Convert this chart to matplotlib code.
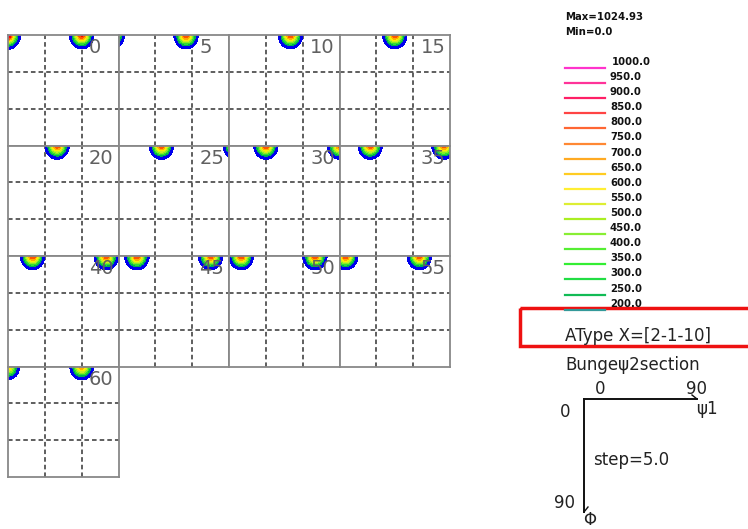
import numpy as np
import matplotlib
matplotlib.use("Agg")
import matplotlib.pyplot as plt

# secoes phi2 (graus) e picos da ODF
secoes = [0, 5, 10, 15, 20, 25, 30, 35, 40, 45, 50, 55, 60]
pico_phi2 = [0, 0, 5, 5, 10, 15, 20, 25, 25, 30, 30, 35, 35, 40, 40, 45, 45, 50, 50, 55, 55, 60, 60]
pico_phi1 = [0, 60, -5, 55, 50, 45, 40, 35, 95, 30, 90, 25, 85, 20, 80, 15, 75, 10, 70, 5, 65, 0, 60]
pico_Phi = [0] * len(pico_phi2)
pico_valor = [1025, 920, 850, 900, 890, 890, 880, 890, 820, 900, 850, 890, 860,
              900, 880, 900, 880, 900, 880, 890, 880, 700, 780]

# niveis da legenda
niveis_legenda = [1000.0, 950.0, 900.0, 850.0, 800.0, 750.0, 700.0, 650.0, 600.0,
                  550.0, 500.0, 450.0, 400.0, 350.0, 300.0, 250.0, 200.0]
cores_legenda = ["#ff33cc", "#ff3399", "#ff1f66", "#ff4444", "#ff6633", "#ff8833",
                 "#ffaa22", "#ffcc22", "#ffee33", "#ddee33", "#aaee22", "#88ee33",
                 "#55ee33", "#33ee33", "#22dd44", "#11bb55", "#339999"]

# niveis do preenchimento das secoes
niveis_cont = [70, 200, 300, 400, 500, 600, 700, 800, 900, 1000, 1100]
cores_cont = ["#0000ee", "#00b050", "#33dd33", "#88ee22", "#ccee22", "#ffee00",
              "#ffaa00", "#ff5500", "#ff0000", "#ff00ff"]

valor_max = 1024.93
valor_min = 0.0

W, H = 748, 529
fig = plt.figure(figsize=(W / 100, H / 100), dpi=100)

# grade de secoes: 4 colunas, tamanho em pixels
x0, y0, tam = 8, 35, 110.5
ncols = 4

phi1 = np.linspace(-10, 100, 221)
Phi = np.linspace(0, 90, 181)
P1, PP = np.meshgrid(phi1, Phi)
sx, sy = 4.4, 5.0

for i, phi2 in enumerate(secoes):
    lin, col = divmod(i, ncols)
    esq = x0 + col * tam
    topo = y0 + lin * tam
    ax = fig.add_axes([esq / W, 1 - (topo + tam) / H, tam / W, tam / H])
    campo = np.zeros_like(P1)
    for p2, p1, pp, v in zip(pico_phi2, pico_phi1, pico_Phi, pico_valor):
        if p2 == phi2:
            campo += v * np.exp(-((P1 - p1) ** 2) / (2 * sx ** 2) - ((PP - pp) ** 2) / (2 * sy ** 2))
    for g in (30, 60):
        ax.axvline(g, color="#333333", lw=1.1, ls=(0, (3, 2)), zorder=1)
        ax.axhline(g, color="#333333", lw=1.1, ls=(0, (3, 2)), zorder=1)
    ax.contourf(P1, PP, campo, levels=niveis_cont, colors=cores_cont, zorder=2)
    ax.set_xlim(0, 90)
    ax.set_ylim(90, 0)
    ax.set_xticks([])
    ax.set_yticks([])
    for s in ax.spines.values():
        s.set_color("#888888")
        s.set_linewidth(1.3)
    ax.text(66, 2.5, str(phi2), fontsize=14, color="#606060", ha="left", va="top", zorder=3)

# camada de texto em coordenadas de pixel
axt = fig.add_axes([0, 0, 1, 1], facecolor="none")
axt.set_xlim(0, W)
axt.set_ylim(H, 0)
axt.axis("off")

axt.text(565, 17, f"Max={valor_max}", fontsize=7.3, fontweight="bold", color="#111111", va="center")
axt.text(565, 32, f"Min={valor_min}", fontsize=7.3, fontweight="bold", color="#111111", va="center")

for k, (nv, c) in enumerate(zip(niveis_legenda, cores_legenda)):
    yl = 68 + 15.1 * k
    axt.plot([565, 605], [yl, yl], color=c, lw=1.6)
    axt.text(612 if nv >= 1000 else 610, yl - 6, f"{nv}", fontsize=7.3, fontweight="bold",
             color="#111111", va="center")

axt.add_patch(plt.Rectangle((520, 308), 240, 38, fill=False, edgecolor="#ee1111", lw=2.5, clip_on=False))
fs = 12
axt.text(565, 341, "AType X=[2-1-10]", fontsize=fs, color="#222222", va="baseline")
axt.text(565, 370, "Bungeψ2section", fontsize=fs, color="#222222", va="baseline")

# eixos de referencia phi1 / Phi
axt.plot([584, 697], [399, 399], color="#111111", lw=1.4)
axt.plot([692, 697], [395, 399], color="#111111", lw=1)
axt.plot([584, 584], [399, 512], color="#111111", lw=1.4)
axt.plot([584, 588], [512, 507], color="#111111", lw=1)
axt.text(600, 394, "0", fontsize=fs, color="#222222", ha="center", va="baseline")
axt.text(697, 394, "90", fontsize=fs, color="#222222", ha="center", va="baseline")
axt.text(707, 409, "ψ1", fontsize=fs, color="#222222", ha="center", va="center")
axt.text(565, 412, "0", fontsize=fs, color="#222222", ha="center", va="center")
axt.text(593, 460, "step=5.0", fontsize=fs, color="#222222", ha="left", va="center")
axt.text(565, 503, "90", fontsize=fs, color="#222222", ha="center", va="center")
axt.text(590, 520, "Φ", fontsize=fs, color="#222222", ha="center", va="center")

fig.savefig("out.png", dpi=100)
